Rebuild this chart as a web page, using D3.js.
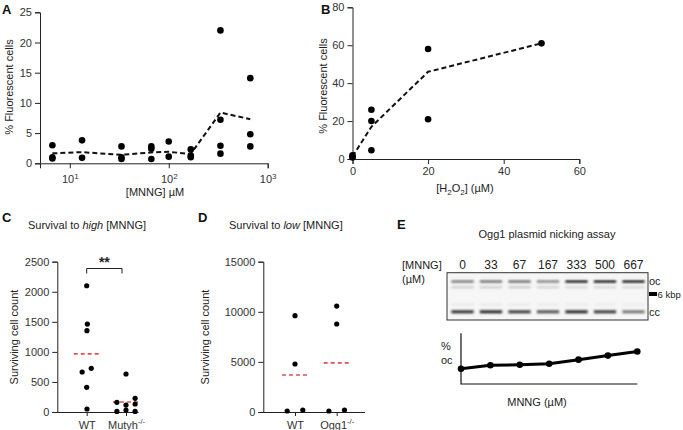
<!DOCTYPE html>
<html><head><meta charset="utf-8">
<script src="https://cdn.jsdelivr.net/npm/d3@7"></script>
<style>
body{margin:0;background:#fff;}
svg{font-family:"Liberation Sans",Arial,sans-serif;}
.axis path,.axis line{stroke:#222;stroke-width:1;}
.axis text{fill:#333;font-size:11px;}
</style></head><body>
<svg id="c" width="683" height="430"></svg>
<script>
// ---- Panel A data ----
const aDoses = [6.67,6.67,6.67,13.3,13.3,33.3,33.3,33.3,66.7,66.7,66.7,100,100,167,167,167,333,333,333,333,667,667,667];
const aValues = [3.0,1.0,0.8,3.8,0.9,2.8,1.0,0.7,2.8,2.4,0.7,3.6,1.1,2.3,1.3,1.0,22.0,7.2,2.9,1.6,14.1,4.8,2.8];
const aMeanDoses = [6.67,13.3,33.3,66.7,100,167,333,667];
const aMeans = [1.65,1.85,1.4,1.8,1.9,1.55,8.4,7.3];
const aYTicks = [0,5,10,15,20,25];
const aXTicks = [10,100,1000];
// ---- Panel B data ----
const bDoses = [0,0,0,5,5,5,20,20,50];
const bValues = [1.2,2.0,0.8,26,20,4.6,58,21,61];
const bMeanDoses = [0,5,20,50];
const bMeans = [1.3,17,46,61];
const bYTicks = [0,20,40,60,80];
const bXTicks = [0,20,40,60];
// ---- Panel C data ----
const cGroups = ["WT","Mutyh"];
const cWT = [2100,1463,1352,726,665,410,50];
const cWTJitter = [0,0.05,0.02,0.35,-0.35,0,0.02];
const cMut = [632,161,10,116,33,228,133,10];
const cMutJitter = [0,-0.7,-0.7,0,0,0.7,0.7,0.7];
const cMeans = [966,166];
const cYTicks = [0,500,1000,1500,2000,2500];
// ---- Panel D data ----
const dGroups = ["WT","Ogg1"];
const dWT = [9612,4789,100,200];
const dWTJitter = [0,0,-0.6,0.6];
const dOgg = [10576,8780,100,200];
const dOggJitter = [0,0,-0.6,0.6];
const dMeans = [3700,4900];
const dYTicks = [0,5000,10000,15000];
// ---- Panel E data ----
const eLanes = ["0","33","67","167","333","500","667"];
const eOcBand = [0.6,0.62,0.64,0.55,0.9,0.9,0.9];
const eOcLower = [0.3,0.3,0.32,0.28,0.26,0.25,0.25];
const eCcBand = [0.85,0.88,0.82,0.75,0.88,0.82,0.62];
const eSmear = [0.1,0.1,0.09,0.09,0.09,0.08,0.08];
const ePctOC = [30,37,38,40,48,56,64];

const svg = d3.select("#c");

function panelLabel(t,x,y){
  svg.append("text").attr("x",x).attr("y",y).text(t)
    .attr("font-weight","bold").attr("font-size",13).attr("fill","#111");
}
function yTitle(t,x,cy){
  svg.append("text").attr("transform",`translate(${x},${cy}) rotate(-90)`)
    .attr("text-anchor","middle").attr("font-size",11).attr("fill","#222").text(t);
}
function dashedMean(g,x1,x2,y,color,w,dash){
  g.append("line").attr("x1",x1).attr("x2",x2).attr("y1",y).attr("y2",y)
   .attr("stroke",color).attr("stroke-width",w).attr("stroke-dasharray",dash);
}

// ================= Panel A =================
panelLabel("A",2,14);
{
  const x = d3.scaleLog().domain([5,1000]).range([40,267.7]);
  const y = d3.scaleLinear().domain([0,25]).range([163.3,12.3]);
  const gx = svg.append("g").attr("class","axis").attr("transform","translate(0,163.3)")
    .call(d3.axisBottom(x).tickValues(aXTicks).tickSize(5).tickFormat(""));
  gx.selectAll(".tick").append("text").attr("y",20).attr("text-anchor","middle")
    .attr("fill","#444").attr("font-size",11)
    .each(function(d){
      const t=d3.select(this);
      t.append("tspan").text("10");
      t.append("tspan").attr("dy",-4).attr("font-size",8).text(Math.round(Math.log10(d)));
    });
  const gy = svg.append("g").attr("class","axis").attr("transform","translate(40,0)")
    .call(d3.axisLeft(y).tickValues(aYTicks).tickSize(5).tickPadding(3));
  gy.selectAll("text").attr("font-size",12).attr("fill","#333");
  svg.append("text").attr("x",155).attr("y",196).attr("text-anchor","middle")
    .attr("font-size",11).attr("fill","#222").text("[MNNG] µM");
  yTitle("% Fluorescent cells",13,87);
  const line = d3.line().x((d,i)=>x(aMeanDoses[i])).y(d=>y(d));
  svg.append("path").attr("d",line(aMeans)).attr("fill","none").attr("stroke","#111")
    .attr("stroke-width",2).attr("stroke-dasharray","5,3");
  svg.append("g").selectAll("circle").data(aValues).join("circle")
    .attr("cx",(d,i)=>x(aDoses[i])).attr("cy",d=>y(d)).attr("r",3.3).attr("fill","#000");
}

// ================= Panel B =================
panelLabel("B",321,14);
{
  const x = d3.scaleLinear().domain([0,60]).range([352.5,579.3]);
  const y = d3.scaleLinear().domain([0,80]).range([159,7.3]);
  const gx = svg.append("g").attr("class","axis").attr("transform","translate(0,159)")
    .call(d3.axisBottom(x).tickValues(bXTicks).tickSize(5).tickPadding(3));
  gx.selectAll("text").attr("font-size",12);
  const gy = svg.append("g").attr("class","axis").attr("transform","translate(352.5,0)")
    .call(d3.axisLeft(y).tickValues(bYTicks).tickSize(5).tickPadding(3));
  gy.selectAll("text").attr("font-size",12);
  const t = svg.append("text").attr("x",465).attr("y",192).attr("text-anchor","middle")
    .attr("font-size",11).attr("fill","#222");
  t.append("tspan").text("[H");
  t.append("tspan").attr("font-size",8).attr("dy",3).text("2");
  t.append("tspan").attr("dy",-3).text("O");
  t.append("tspan").attr("font-size",8).attr("dy",3).text("2");
  t.append("tspan").attr("dy",-3).text("] (µM)");
  yTitle("% Fluorescent cells",327,86);
  const line = d3.line().x((d,i)=>x(bMeanDoses[i])).y(d=>y(d));
  svg.append("path").attr("d",line(bMeans)).attr("fill","none").attr("stroke","#111")
    .attr("stroke-width",2).attr("stroke-dasharray","5,3");
  svg.append("g").selectAll("circle").data(bValues).join("circle")
    .attr("cx",(d,i)=>x(bDoses[i])).attr("cy",d=>y(d)).attr("r",3.3).attr("fill","#000");
}

// ================= Panel C =================
panelLabel("C",2,222);
{
  const title = svg.append("text").attr("x",28).attr("y",229).attr("font-size",11).attr("fill","#222");
  title.append("tspan").text("Survival to ");
  title.append("tspan").attr("font-style","italic").text("high");
  title.append("tspan").text(" [MNNG]");
  const x = d3.scalePoint().domain(cGroups).range([86.7,126]);
  const y = d3.scaleLinear().domain([0,2500]).range([412,261.7]);
  const gx = svg.append("g").attr("class","axis").attr("transform","translate(0,412)")
    .call(d3.axisBottom(x).tickSize(4).tickFormat(""));
  gx.select(".domain").attr("d","M57.3,0.5H138.5");
  gx.selectAll(".tick").append("text").attr("y",17).attr("text-anchor","middle")
    .attr("fill","#222").attr("font-size",11)
    .each(function(d){
      const t=d3.select(this);
      t.append("tspan").text(d);
      if(d!=="WT") t.append("tspan").attr("dy",-5).attr("font-size",7.5).text("-/-");
    });
  const gy = svg.append("g").attr("class","axis").attr("transform","translate(57.3,0)")
    .call(d3.axisLeft(y).tickValues(cYTicks).tickFormat(d3.format("d")).tickSize(5).tickPadding(3));
  gy.selectAll("text").attr("font-size",11.5);
  yTitle("Surviving cell count",18,337);
  const bw = 13;
  const means = svg.append("g");
  cMeans.forEach((m,i)=>dashedMean(means,x(cGroups[i])-bw,x(cGroups[i])+bw,y(m),"#e0505a",1.6,"4,3"));
  svg.append("g").selectAll("circle").data(cWT).join("circle")
    .attr("cx",(d,i)=>x("WT")+cWTJitter[i]*13).attr("cy",d=>y(d)).attr("r",2.6).attr("fill","#000");
  svg.append("g").selectAll("circle").data(cMut).join("circle")
    .attr("cx",(d,i)=>x("Mutyh")+cMutJitter[i]*13).attr("cy",d=>y(d)).attr("r",2.6).attr("fill","#000");
  const bx1 = x("WT"), bx2 = x("Mutyh")-4, by = 268.5;
  svg.append("path").attr("d",`M${bx1},${by+5}V${by}H${bx2}V${by+5}`)
    .attr("fill","none").attr("stroke","#222").attr("stroke-width",1);
  svg.append("text").attr("x",(bx1+bx2)/2).attr("y",by-2).attr("text-anchor","middle")
    .attr("font-size",14).attr("font-weight","bold").attr("fill","#222").text("**");
}

// ================= Panel D =================
panelLabel("D",198,222);
{
  const title = svg.append("text").attr("x",229).attr("y",229).attr("font-size",11).attr("fill","#222");
  title.append("tspan").text("Survival to ");
  title.append("tspan").attr("font-style","italic").text("low");
  title.append("tspan").text(" [MNNG]");
  const x = d3.scalePoint().domain(dGroups).range([295,336.7]);
  const y = d3.scaleLinear().domain([0,15000]).range([412,261.7]);
  const gx = svg.append("g").attr("class","axis").attr("transform","translate(0,412)")
    .call(d3.axisBottom(x).tickSize(4).tickFormat(""));
  gx.select(".domain").attr("d","M263.3,0.5H365");
  gx.selectAll(".tick").append("text").attr("y",17).attr("text-anchor","middle")
    .attr("fill","#222").attr("font-size",11)
    .each(function(d){
      const t=d3.select(this);
      t.append("tspan").text(d);
      if(d!=="WT") t.append("tspan").attr("dy",-5).attr("font-size",7.5).text("-/-");
    });
  const gy = svg.append("g").attr("class","axis").attr("transform","translate(263.3,0)")
    .call(d3.axisLeft(y).tickValues(dYTicks).tickFormat(d3.format("d")).tickSize(5).tickPadding(3));
  gy.selectAll("text").attr("font-size",11.5);
  yTitle("Surviving cell count",209,337);
  const bw = 13;
  const means = svg.append("g");
  dMeans.forEach((m,i)=>dashedMean(means,x(dGroups[i])-bw,x(dGroups[i])+bw,y(m),"#e0505a",1.6,"4,3"));
  svg.append("g").selectAll("circle").data(dWT).join("circle")
    .attr("cx",(d,i)=>x("WT")+dWTJitter[i]*13).attr("cy",d=>y(d)).attr("r",2.6).attr("fill","#000");
  svg.append("g").selectAll("circle").data(dOgg).join("circle")
    .attr("cx",(d,i)=>x("Ogg1")+dOggJitter[i]*13).attr("cy",d=>y(d)).attr("r",2.6).attr("fill","#000");
}

// ================= Panel E =================
panelLabel("E",397,229);
{
  svg.append("text").attr("x",547).attr("y",238).attr("text-anchor","middle")
    .attr("font-size",11).attr("fill","#222").text("Ogg1 plasmid nicking assay");
  svg.append("text").attr("x",402).attr("y",269).attr("font-size",11).attr("fill","#222").text("[MNNG]");
  svg.append("text").attr("x",402).attr("y",283).attr("font-size",11).attr("fill","#222").text("(µM)");
  const lane = d3.scaleBand().domain(eLanes).range([448,648]).paddingInner(0.22).paddingOuter(0.12);
  const gelTop = 272.7, gelBot = 320;
  const defs = svg.append("defs");
  defs.append("filter").attr("id","blur").append("feGaussianBlur").attr("stdDeviation",0.8);
  svg.append("rect").attr("x",447).attr("y",gelTop).attr("width",201).attr("height",gelBot-gelTop)
    .attr("fill","#f6f6f6");
  const bands = svg.append("g").attr("filter","url(#blur)");
  function bandRow(arr,yc,h){
    bands.append("g").selectAll("rect").data(arr).join("rect")
      .attr("x",(d,i)=>lane(eLanes[i])).attr("width",lane.bandwidth())
      .attr("y",yc-h/2).attr("height",h).attr("fill",d=>d3.interpolateGreys(d));
  }
  bandRow(eSmear,277,2);
  bandRow(eOcBand,281.5,2.6);
  bandRow(eOcLower,287.2,2.2);
  bandRow(eSmear.map(v=>v*1.5),304.5,3);
  bandRow(eCcBand,311.8,3);
  svg.append("rect").attr("x",447).attr("y",gelTop).attr("width",201).attr("height",gelBot-gelTop)
    .attr("fill","none").attr("stroke","#333").attr("stroke-width",1);
  svg.append("g").selectAll("text").data(eLanes).join("text")
    .attr("x",d=>lane(d)+lane.bandwidth()/2).attr("y",269).attr("text-anchor","middle")
    .attr("font-size",12).attr("fill","#222").text(d=>d);
  svg.append("text").attr("x",649).attr("y",285).attr("font-size",11).attr("fill","#222").text("oc");
  svg.append("rect").attr("x",649).attr("y",292).attr("width",8).attr("height",4).attr("fill","#000");
  svg.append("text").attr("x",657.5).attr("y",298).attr("font-size",9.5).attr("fill","#222").text("6 kbp");
  svg.append("text").attr("x",649).attr("y",316).attr("font-size",11).attr("fill","#222").text("cc");

  const x = d3.scalePoint().domain(eLanes).range([461,637.3]);
  const y = d3.scaleLinear().domain([0,100]).range([384,333.3]);
  svg.append("path").attr("d",`M${x.range()[0]},${y(100)}V${y(0)}H${x.range()[1]}`)
    .attr("fill","none").attr("stroke","#111").attr("stroke-width",1.2);
  const line = d3.line().x((d,i)=>x(eLanes[i])).y(d=>y(d));
  svg.append("path").attr("d",line(ePctOC)).attr("fill","none").attr("stroke","#000").attr("stroke-width",3);
  svg.append("g").selectAll("circle").data(ePctOC).join("circle")
    .attr("cx",(d,i)=>x(eLanes[i])).attr("cy",d=>y(d)).attr("r",3.3).attr("fill","#000");
  svg.append("text").attr("x",441).attr("y",350).attr("font-size",11).attr("fill","#222").text("%");
  svg.append("text").attr("x",441).attr("y",364).attr("font-size",11).attr("fill","#222").text("oc");
  svg.append("text").attr("x",537).attr("y",406).attr("text-anchor","middle")
    .attr("font-size",11).attr("fill","#222").text("MNNG (µM)");
}
</script></body></html>
